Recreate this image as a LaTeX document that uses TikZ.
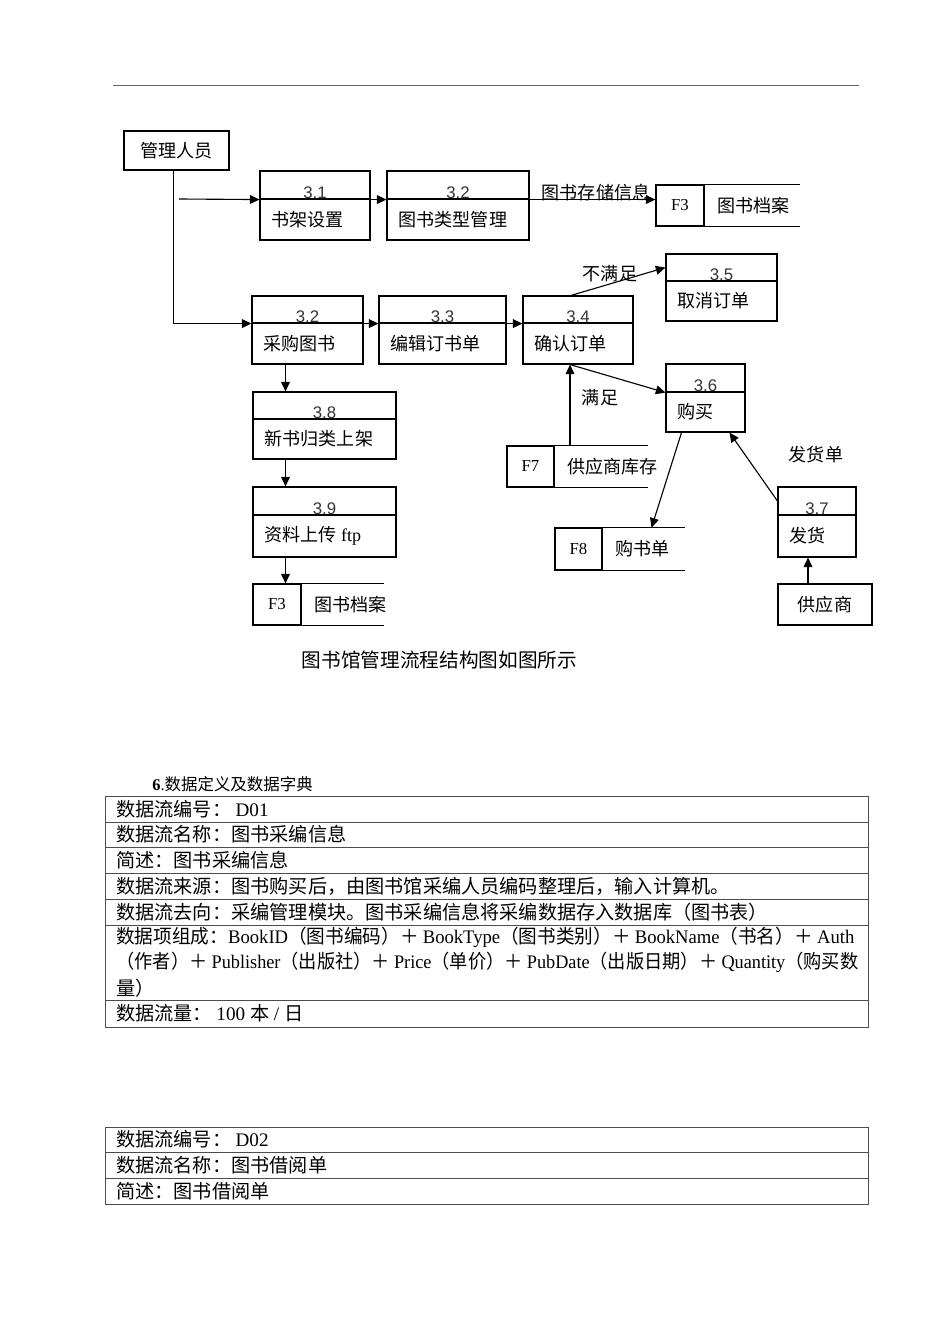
\documentclass[tikz,border=0pt]{standalone}
\usepackage{fontspec}
\setmainfont{Liberation Serif}
\newfontfamily\cjk{Noto Sans CJK SC}
\newfontfamily\numfont{Liberation Sans}
\usetikzlibrary{arrows.meta,calc,fit}
\newcommand{\en}[1]{{\rmfamily #1}}

\begin{document}
\begin{tikzpicture}[x=0.626pt,y=-0.626pt]

\useasboundingbox (0,0) rectangle (950,1344);

\tikzstyle{every node}=[font=\cjk\fontsize{11.3}{13.5}\selectfont,inner sep=0pt];
\tikzstyle{part}=[draw,rectangle,line width=0.7pt];
\tikzstyle{nr}=[font=\numfont\fontsize{10.5}{12}\selectfont,text=black!80];
\tikzstyle{storeid}=[font=\rmfamily\fontsize{10.5}{12}\selectfont];
\tikzstyle{flow}=[-{Triangle[length=6pt,width=5.5pt]},line width=0.7pt];
\tikzstyle{cell}=[anchor=west,font=\cjk\fontsize{12}{14}\selectfont];
\tikzstyle{grid}=[draw=black!70,line width=0.6pt];

% Page rule
\draw[black!60,line width=1pt] (113,85.5) -- (859,85.5);

% Draw the external entities
\node[part,fit={(124,131) (229,170)}] (mgr) {};
\node (tmgr) at (mgr.center) {管理人员};
\node[part,fit={(778,584) (872,625)}] (sup) {};
\node (tsup) at (sup.center) {供应商};

% Draw the processes (number part on top, name below)
\foreach \id/\xa/\ya/\yd/\yb/\xb/\nr/\txt in {
  31/260/171/199/240/370/3.1/书架设置,
  32/387/171/199/240/529/3.2/图书类型管理,
  32b/252/296/323/364/363/3.2/采购图书,
  33/379/296/323/364/506/3.3/编辑订书单,
  34/523/296/323/364/633/3.4/确认订单,
  35/666/254/281/321/777/3.5/取消订单,
  36/666/364/392/432/745/3.6/购买,
  37/778/487/515/557/856/3.7/发货,
  38/253/392/419/459/396/3.8/新书归类上架,
  39/253/487/515/557/396/3.9/{资料上传 \en{ftp}}}
{
  \node[part,fit={(\xa,\ya) (\xb,\yd)}] (n\id) {};
  \node[part,fit={(\xa,\yd) (\xb,\yb)}] (p\id) {};
  \node[nr,anchor=base] (k\id) at ($(n\id.south)+(0,-1.5)$) {\nr};
  \node[anchor=west] (t\id) at ($(p\id.west)+(12,0)$) {\txt};
}

% Draw the data stores
\foreach \id/\xa/\ya/\yb/\xd/\xb/\code/\txt in {
  f3a/656/185/226/704/800/F3/图书档案,
  f7/507/446/487/554/648/F7/供应商库存,
  f8/555/528/570/602/685/F8/购书单,
  f3b/253/584/625/301/384/F3/图书档案}
{
  \node[part,fit={(\xa,\ya) (\xd,\yb)}] (c\id) {};
  \node[storeid] (k\id) at (c\id.center) {\code};
  \node[fit={(\xd,\ya) (\xb,\yb)}] (s\id) {};
  \draw[line width=0.7pt] (s\id.north west) -- (s\id.north east)
    (s\id.south west) -- (s\id.south east);
  \node[anchor=west] (t\id) at ($(s\id.west)+(13,0)$) {\txt};
}

% Data flows
\coordinate (in31) at (179,199);
\coordinate (c34) at ($(p34.south)+(-8,0)$);
\coordinate (c37) at ($(sup.north)+(-17,0)$);
\coordinate (c38) at ($(p32b.south)+(-22,0)$);
\draw[flow] ($(mgr.south)+(-3,0)$) |- (n32b.south west);
\draw[flow] (in31) -- (n31.south west);
\draw[flow] (n31.south east) -- (n32.south west);
\draw[flow] (n32.south east) -- (n32.south east -| cf3a.west);
\draw[flow] (n32b.south east) -- (n33.south west);
\draw[flow] (n33.south east) -- (n34.south west);
\draw[flow] ($(n34.north)+(-7,0)$) -- (n35.west);
\draw[flow] (c34) -- (n36.south west);
\draw[flow] (c34 |- sf7.north) -- (c34);
\draw[flow] ($(p36.south)+(-24,0)$) -- ($(sf8.north)+(8,0)$);
\draw[flow] (n37.west) -- ($(p36.south)+(24,0)$);
\draw[flow] (c37) -- (c37 |- p37.south);
\draw[flow] (c38) -- (c38 |- n38.north);
\draw[flow] (c38 |- p38.south) -- (c38 |- n39.north);
\draw[flow] (c38 |- p39.south) -- (c38 |- cf3b.north);

% Flow labels
\node (lb1) at (596,193) {图书存储信息};
\node (lb2) at (610,274) {不满足};
\node (lb3) at (600,398) {满足};
\node (lb4) at (816,455) {发货单};

% Caption and heading
\node[font=\cjk\fontsize{12.3}{15}\selectfont] (cap) at (439.5,660) {图书馆管理流程结构图如图所示};
\node[anchor=west,font=\cjk\fontsize{10.3}{12}\selectfont] (hd) at (152,784) {\en{\textbf{6}.}数据定义及数据字典};

% Data dictionary D01
\draw[grid] (105,796) rectangle (868,1027);
\foreach \y in {822,847,873,899,925,1000}
  \draw[grid] (105,\y) -- (868,\y);
\foreach \yc/\txt [count=\i] in {
  809/{数据流编号：\ \en{D01}},
  834.5/{数据流名称：图书采编信息},
  860/{简述：图书采编信息},
  886/{数据流来源：图书购买后，由图书馆采编人员编码整理后，输入计算机。},
  912/{数据流去向：采编管理模块。图书采编信息将采编数据存入数据库（图书表）},
  937/{\resizebox{462pt}{\height}{数据项组成：\en{BookID}（图书编码）＋\ \en{BookType}（图书类别）＋\ \en{BookName}（书名）＋\ \en{Auth}}},
  962/{\resizebox{464.5pt}{\height}{（作者）＋\ \en{Publisher}（出版社）＋\ \en{Price}（单价）＋\ \en{PubDate}（出版日期）＋\ \en{Quantity}（购买数}},
  988/{量）},
  1013.5/{数据流量：\ \en{100 }本\en{ / }日}}
  \node[cell] (d\i) at (116,\yc) {\txt};

% Data dictionary D02
\draw[grid] (105,1127) rectangle (868,1204);
\foreach \y in {1152,1178}
  \draw[grid] (105,\y) -- (868,\y);
\foreach \yc/\txt [count=\i] in {
  1139.5/{数据流编号：\ \en{D02}},
  1165/{数据流名称：图书借阅单},
  1191/{简述：图书借阅单}}
  \node[cell] (e\i) at (116,\yc) {\txt};

\end{tikzpicture}
\end{document}
